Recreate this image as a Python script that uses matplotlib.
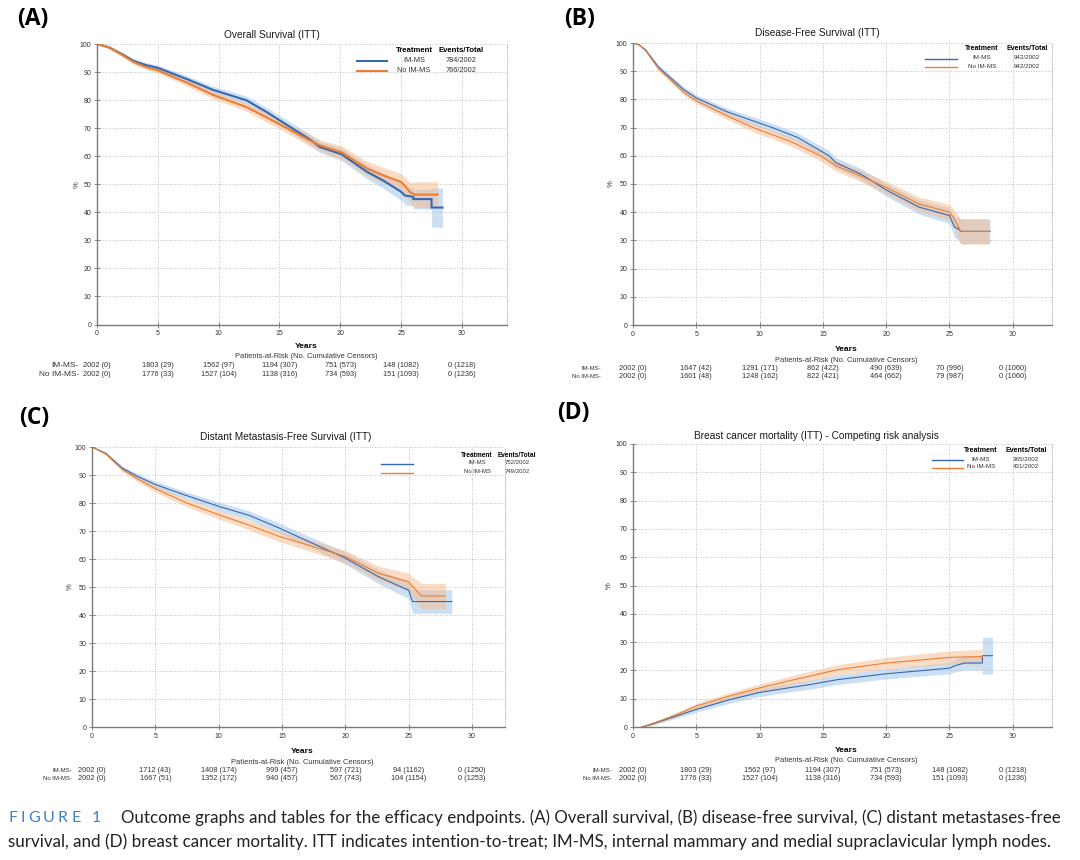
import matplotlib
matplotlib.use("Agg")
import matplotlib.pyplot as plt
from matplotlib.lines import Line2D
from matplotlib import transforms
import numpy as np

plt.rcParams['font.family'] = ['Liberation Sans', 'DejaVu Sans']

W, H = 1080, 860

BLUE = '#3468b3'
ORANGE = '#ee7d31'
BLUE_FILL = '#9cc0e6'
ORANGE_FILL = '#f6bb8c'

year_ticks = [0, 5, 10, 15, 20, 25, 30]

# ---------------- (A) overall survival ----------------
a_blue_t = [0, 1, 2, 3, 4, 5, 7.5, 9.5, 12.3, 14, 16.1, 17.5, 18.3, 20.1, 22.2, 23.5, 25, 25.3, 26, 26, 27.5, 27.5, 28.4]
a_blue_v = [100, 98.8, 96.5, 94, 92.5, 91.5, 87.3, 83.7, 79.9, 75.6, 69.8, 66, 63.3, 60.7, 54.4, 51.4, 47.3, 46, 45.5, 44.7, 44.7, 41.7, 41.7]
a_blue_ci = [0, 0.5, 0.7, 0.8, 0.9, 1.0, 1.2, 1.3, 1.5, 1.6, 1.8, 1.9, 2.0, 2.2, 2.5, 2.7, 3.0, 3.2, 3.4, 3.4, 3.6, 7.0, 7.0]
a_orange_t = [0, 1, 2, 3, 4, 5, 7.5, 9.5, 12.3, 14, 15.7, 17.5, 18.3, 20.1, 22.2, 23.5, 25, 25.4, 25.7, 26.1, 28.0]
a_orange_v = [100, 98.8, 96.3, 93.6, 91.8, 90.6, 86, 81.9, 77.5, 73.7, 69.8, 65.6, 63.9, 61.4, 55.6, 53.2, 50.8, 49, 47.3, 46.3, 46.3]
a_orange_ci = [0, 0.5, 0.7, 0.8, 0.9, 1.0, 1.2, 1.4, 1.5, 1.7, 1.8, 2.0, 2.0, 2.3, 2.6, 2.8, 3.0, 3.2, 3.5, 4.6, 4.6]
a_events = ['784/2002', '766/2002']
a_risk_blue = ['2002 (0)', '1803 (29)', '1562 (97)', '1194 (307)', '751 (573)', '148 (1082)', '0 (1218)']
a_risk_orange = ['2002 (0)', '1776 (33)', '1527 (104)', '1138 (316)', '734 (593)', '151 (1093)', '0 (1236)']

# ---------------- (B) disease-free survival ----------------
b_blue_t = [0, 0.5, 1, 2, 3, 4, 5, 7.5, 11, 13, 15.5, 16, 18, 20, 22.6, 25, 25.4, 25.7, 25.9, 28.2]
b_blue_v = [100, 99.3, 97.5, 91.5, 87.5, 83.5, 80.5, 75.5, 70, 66.5, 60, 57.6, 53.5, 47.9, 41.8, 38.8, 34.7, 34.1, 33.2, 33.2]
b_blue_ci = [0, 0.3, 0.5, 0.8, 0.9, 1.0, 1.1, 1.3, 1.5, 1.6, 1.8, 1.8, 2.0, 2.2, 2.5, 2.8, 3.5, 4.0, 4.4, 4.4]
b_orange_t = [0, 0.5, 1, 2, 3, 4, 5, 7.5, 9.5, 12.5, 14.8, 16, 18, 20, 22.6, 25, 25.3, 25.9, 28.1]
b_orange_v = [100, 99.3, 97.3, 91, 86.8, 82.5, 79.5, 74, 70, 65, 60, 56.5, 52.8, 48.8, 42.9, 40, 38.2, 33.2, 33.2]
b_orange_ci = [0, 0.3, 0.5, 0.8, 0.9, 1.0, 1.1, 1.3, 1.5, 1.6, 1.8, 1.9, 2.0, 2.2, 2.5, 2.8, 3.0, 4.5, 4.5]
b_events = ['942/2002', '942/2002']
b_risk_blue = ['2002 (0)', '1647 (42)', '1291 (171)', '862 (422)', '490 (639)', '70 (996)', '0 (1060)']
b_risk_orange = ['2002 (0)', '1601 (48)', '1248 (162)', '822 (421)', '464 (662)', '79 (987)', '0 (1060)']

# ---------------- (C) distant metastasis-free survival ----------------
c_blue_t = [0, 1.1, 2.4, 3.6, 5, 7.5, 10, 12.4, 14.7, 18.2, 20, 22.6, 25, 25.3, 28.4]
c_blue_v = [100, 97.7, 92.4, 89.5, 86.6, 82.6, 78.8, 75.6, 71.2, 64, 60.3, 53.7, 48.8, 44.8, 44.8]
c_blue_ci = [0, 0.5, 0.8, 1.0, 1.1, 1.3, 1.5, 1.6, 1.8, 2.0, 2.2, 2.5, 3.0, 4.2, 4.2]
c_orange_t = [0, 1.1, 2.4, 3.6, 5, 7.5, 10, 12.4, 14.7, 18.2, 20, 22.6, 25, 25.2, 26, 27.9]
c_orange_v = [100, 97.5, 92, 88.6, 85.1, 80, 75.8, 72.1, 68.2, 63.4, 60.9, 54.9, 51.9, 50.7, 46.8, 46.8]
c_orange_ci = [0, 0.5, 0.8, 1.0, 1.2, 1.4, 1.5, 1.7, 1.9, 2.1, 2.2, 2.6, 3.0, 3.3, 4.5, 4.5]
c_events = ['752/2002', '749/2002']
c_risk_blue = ['2002 (0)', '1712 (43)', '1408 (174)', '999 (457)', '597 (721)', '94 (1162)', '0 (1250)']
c_risk_orange = ['2002 (0)', '1667 (51)', '1352 (172)', '940 (457)', '567 (743)', '104 (1154)', '0 (1253)']

# ---------------- (D) breast cancer mortality ----------------
d_blue_t = [0.7, 1.5, 2.5, 3.5, 5, 7.5, 10, 12.5, 14, 16.1, 20, 25, 25.4, 26.2, 27.6, 27.6, 28.4]
d_blue_v = [0, 1, 2.5, 4, 6.2, 9.5, 12.2, 14, 15, 16.7, 18.8, 20.8, 21.6, 22.6, 22.6, 25.2, 25.2]
d_blue_ci = [0, 0.4, 0.6, 0.8, 1.0, 1.2, 1.4, 1.5, 1.6, 1.7, 1.8, 2.0, 2.2, 2.5, 2.5, 6.5, 6.5]
d_orange_t = [0.7, 1.5, 2.5, 3.5, 5, 7.5, 10, 12.5, 14, 16.1, 20, 25, 27.6]
d_orange_v = [0, 1.2, 2.8, 4.5, 7.4, 10.8, 13.8, 16.5, 18, 20.2, 22.6, 24.6, 24.9]
d_orange_ci = [0, 0.4, 0.6, 0.8, 1.0, 1.2, 1.4, 1.6, 1.7, 1.8, 2.0, 2.3, 2.6]
d_events = ['365/2002', '431/2002']
d_risk_blue = a_risk_blue
d_risk_orange = a_risk_orange

groups = ['IM-MS', 'No IM-MS']
caption_1 = ('Outcome graphs and tables for the efficacy endpoints. (A) Overall survival, (B) disease-free survival, '
             '(C) distant metastases-free')
caption_2 = ('survival, and (D) breast cancer mortality. ITT indicates intention-to-treat; IM-MS, internal mammary '
             'and medial supraclavicular lymph nodes.')


def fx(px):
    return px / W


def fy(py):
    return 1 - py / H


fig = plt.figure(figsize=(W / 100, H / 100), dpi=100)
fig.patch.set_facecolor('white')


def draw_panel(box, xmax, letter, letter_xy, title, title_xy, curves, lw,
               legend, events, risk, risk_rows, ylab_x):
    left, top, right, bottom = box
    ax = fig.add_axes([fx(left), fy(bottom), (right - left) / W, (bottom - top) / H])
    for t, v, ci, col, fill in curves:
        t = np.array(t)
        v = np.array(v)
        ci = np.array(ci)
        ax.fill_between(t, v - ci, v + ci, color=fill, alpha=0.5, lw=0)
    for t, v, ci, col, fill in curves:
        ax.plot(t, v, color=col, lw=lw, solid_joinstyle='miter')
    ax.set_xlim(0, xmax)
    ax.set_ylim(0, 100)
    ax.set_xticks(year_ticks)
    ax.set_yticks(range(0, 101, 10))
    ax.grid(True, ls=(0, (1, 2)), color='#adadad', lw=0.6)
    ax.set_axisbelow(True)
    ax.spines['top'].set_visible(False)
    ax.spines['right'].set_linestyle((0, (1, 2)))
    ax.spines['right'].set_color('#adadad')
    ax.spines['right'].set_linewidth(0.6)
    for s in ['left', 'bottom']:
        ax.spines[s].set_color('#7a7a7a')
        ax.spines[s].set_linewidth(1.0)
    ax.tick_params(direction='inout', length=4, width=0.6, color='#7a7a7a',
                   labelsize=5, labelcolor='#333333', pad=2)
    ax.set_ylabel('%', fontsize=5.5, color='#333333')
    ax.yaxis.set_label_coords((ylab_x - left) / (right - left), 0.5)

    fig.text(fx(letter_xy[0]), fy(letter_xy[1]), letter, fontsize=16.5,
             fontweight='bold', family=['Open Sans', 'DejaVu Sans'], va='center', ha='left')
    fig.text(fx(title_xy[0]), fy(title_xy[1]), title, fontsize=7.3, ha='center',
             va='center', color='#1a1a1a')

    # legend block
    lx1, lx2, c1, c2, yh, y1, y2, fs_h, fs_e = legend
    fig.text(fx(c1), fy(yh), 'Treatment', fontsize=fs_h, fontweight='bold', ha='center', va='center')
    fig.text(fx(c2), fy(yh), 'Events/Total', fontsize=fs_h, fontweight='bold', ha='center', va='center')
    for (yy, col, g, ev) in [(y1, BLUE, groups[0], events[0]), (y2, ORANGE, groups[1], events[1])]:
        fig.add_artist(Line2D([fx(lx1), fx(lx2)], [fy(yy + 1), fy(yy + 1)], color=col,
                              lw=max(lw, 1.0), transform=fig.transFigure))
        fig.text(fx(c1), fy(yy), g, fontsize=fs_e, ha='center', va='center', color='#333333')
        fig.text(fx(c2), fy(yy), ev, fontsize=fs_e, ha='center', va='center', color='#333333')

    # patients-at-risk table
    lab_x, y_years, y_pat, yr1, yr2, fs_lab = risk_rows
    centre = (left + right) / 2 + 4
    fig.text(fx(centre), fy(y_years), 'Years', fontsize=6, fontweight='bold', ha='center', va='center')
    fig.text(fx(centre), fy(y_pat), 'Patients-at-Risk (No. Cumulative Censors)', fontsize=5.4,
             ha='center', va='center', color='#333333')
    tr = transforms.blended_transform_factory(ax.transData, fig.transFigure)
    for yy, g, vals in [(yr1, groups[0], risk[0]), (yr2, groups[1], risk[1])]:
        fig.text(fx(lab_x), fy(yy), g + '-', fontsize=fs_lab, ha='right', va='center', color='#333333')
        for xt, s in zip(year_ticks, vals):
            ax.text(xt, fy(yy), s, transform=tr, fontsize=5.3, ha='center', va='center',
                    color='#333333', clip_on=False)
    return ax


draw_panel((97, 44, 507, 324.5), 33.7, '(A)', (17, 19), 'Overall Survival (ITT)', (272, 35),
           [(a_blue_t, a_blue_v, a_blue_ci, BLUE, BLUE_FILL),
            (a_orange_t, a_orange_v, a_orange_ci, ORANGE, ORANGE_FILL)], 1.5,
           (357, 387, 414, 461, 50, 60, 70, 5.6, 5.3), a_events,
           (a_risk_blue, a_risk_orange), (79, 346.3, 356.8, 365.6, 374.4, 6.0), 81)

draw_panel((633, 43, 1052, 325), 33.1, '(B)', (564, 19), 'Disease-Free Survival (ITT)', (817, 33),
           [(b_blue_t, b_blue_v, b_blue_ci, BLUE, BLUE_FILL),
            (b_orange_t, b_orange_v, b_orange_ci, ORANGE, ORANGE_FILL)], 0.8,
           (925, 957, 982, 1027, 49, 57.5, 66, 5.0, 4.5), b_events,
           (b_risk_blue, b_risk_orange), (601, 349.8, 360.4, 368.4, 376.1, 4.3), 615)

draw_panel((92, 447, 505, 727), 32.6, '(C)', (19, 418), 'Distant Metastasis-Free Survival (ITT)', (286, 437),
           [(c_blue_t, c_blue_v, c_blue_ci, BLUE, BLUE_FILL),
            (c_orange_t, c_orange_v, c_orange_ci, ORANGE, ORANGE_FILL)], 0.8,
           (381, 413, 477, 517, 455, 463, 471.5, 4.7, 4.3), c_events,
           (c_risk_blue, c_risk_orange), (72, 751.6, 762, 770.9, 779, 4.3), 74)

draw_panel((633, 444, 1052, 727), 33.1, '(D)', (557, 413),
           'Breast cancer mortality (ITT) - Competing risk analysis', (816, 436),
           [(d_blue_t, d_blue_v, d_blue_ci, BLUE, BLUE_FILL),
            (d_orange_t, d_orange_v, d_orange_ci, ORANGE, ORANGE_FILL)], 0.8,
           (932, 963, 981, 1026, 451, 459, 467, 5.0, 4.5), d_events,
           (d_risk_blue, d_risk_orange), (612, 750.5, 760.5, 770.9, 779, 4.3), 613)

# caption, fitted to the widths in the reference
renderer = fig.canvas.get_renderer()
cap_font = ['Lato', 'DejaVu Sans']


def fitted_text(x0, x1, y, s, size):
    t = fig.text(fx(x0), fy(y), s, fontsize=size, family=cap_font, va='center', ha='left', color='#222222')
    w = t.get_window_extent(renderer).width
    t.set_fontsize(size * (x1 - x0) / w)
    return t


fitted_text(121, 1057, 818, caption_1, 11)
fitted_text(8, 1055, 842, caption_2, 11)

x = 8
for ch in 'FIGURE 1':
    if ch == ' ':
        x += 8
        continue
    t = fig.text(fx(x), fy(818), ch, fontsize=11.5, family=cap_font, va='center', ha='left', color='#3d80c6')
    x += t.get_window_extent(renderer).width + 3.2

fig.savefig('out.png', dpi=100, facecolor='white')
